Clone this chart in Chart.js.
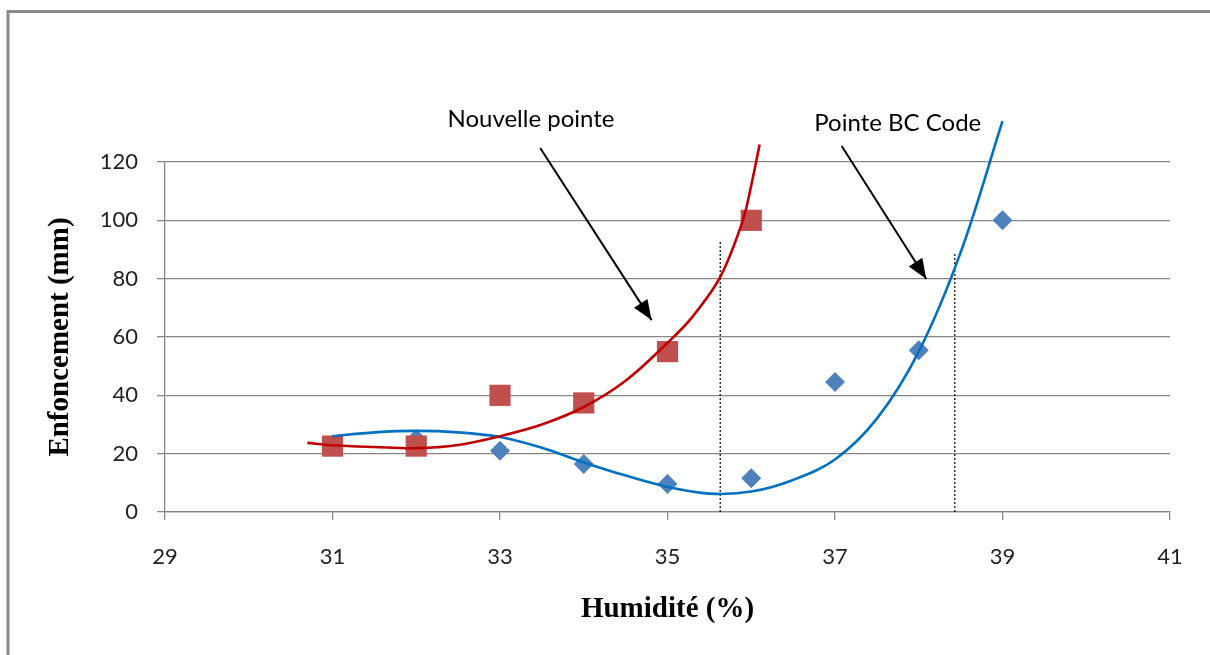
<!DOCTYPE html>
<html>
<head>
<meta charset="utf-8">
<script src="https://cdn.jsdelivr.net/npm/chart.js@4.4.1/dist/chart.umd.min.js"></script>
<style>
  html, body { margin: 0; padding: 0; background: #fff; }
  #wrap { position: relative; width: 1210px; height: 655px; }
</style>
</head>
<body>
<div id="wrap"><canvas id="chart" width="1210" height="655"></canvas></div>
<script>
// measured points
const humidity = [31, 32, 33, 34, 35, 36, 37, 38, 39];
const bcCode = [23, 25, 21, 16.5, 9.6, 11.6, 44.6, 55.5, 100];
const nouvHumidity = [31, 32, 33, 34, 35, 36];
const nouvelle = [22.6, 22.6, 40, 37.4, 55, 100];

// trend curves
const nouvTrendX = [30.7, 31, 31.5, 32, 32.5, 33, 33.5, 34, 34.5, 35, 35.3, 35.63, 35.9, 36.0, 36.1];
const nouvTrendY = [23.7, 22.9, 22.3, 21.9, 23, 26, 30, 36, 45, 58, 67, 80.6, 100, 112, 126];
const bcTrendX = [31, 31.5, 32, 32.5, 33, 33.5, 34, 34.5, 35, 35.5, 36, 36.5, 37, 37.5, 38, 38.5, 39];
const bcTrendY = [26, 27.3, 27.8, 27.3, 25.7, 22, 17, 12.5, 8.6, 6.3, 7, 11, 18, 32, 55, 89, 134];

// dotted markers and arrows (data coords)
const dropX = [35.63, 38.43];
const dropTop = [93, 89];
const arrowFrom = [[33.48, 124.8], [37.08, 125.5]];
const arrowTo = [[34.81, 65.8], [38.09, 79.9]];
const noteText = ['Nouvelle pointe', 'Pointe BC Code'];
const noteAt = [[33.37, 132], [37.75, 130.6]];

const xTicks = [29, 31, 33, 35, 37, 39, 41];

function pts(xs, ys) { return xs.map((x, i) => ({x: x, y: ys[i]})); }

const lineSets = [
  { data: pts(nouvTrendX, nouvTrendY), borderColor: '#C00000' },
  { data: pts(bcTrendX, bcTrendY), borderColor: '#0070C0' }
].map(d => Object.assign(d, {
  type: 'line', showLine: true, pointRadius: 0, borderWidth: 2.6,
  tension: 0.35, clip: false, fill: false
}));

const dropSets = dropX.map((x, i) => ({
  type: 'line', showLine: true, pointRadius: 0, borderWidth: 1.4,
  borderColor: '#222', borderDash: [2, 2], clip: false,
  data: [{x: x, y: 0}, {x: x, y: dropTop[i]}]
}));

const arrowSets = arrowFrom.map((a, i) => ({
  type: 'line', showLine: true, pointRadius: 0, borderWidth: 2,
  borderColor: '#000', clip: false, isArrow: true,
  data: [{x: a[0], y: a[1]}, {x: arrowTo[i][0], y: arrowTo[i][1]}]
}));

const decor = {
  id: 'decor',
  beforeDraw(chart) {
    const c = chart.ctx;
    c.save();
    c.strokeStyle = '#8a8a8a';
    c.lineWidth = 3;
    c.beginPath();
    c.moveTo(8, 655);
    c.lineTo(8, 11.5);
    c.lineTo(1210, 11.5);
    c.stroke();
    c.restore();
  },
  afterDatasetsDraw(chart) {
    const c = chart.ctx, xs = chart.scales.x, ys = chart.scales.y;
    c.save();
    chart.data.datasets.forEach(ds => {
      if (!ds.isArrow) return;
      const p0 = ds.data[0], p1 = ds.data[1];
      const x0 = xs.getPixelForValue(p0.x), y0 = ys.getPixelForValue(p0.y);
      const x1 = xs.getPixelForValue(p1.x), y1 = ys.getPixelForValue(p1.y);
      const ang = Math.atan2(y1 - y0, x1 - x0);
      const L = 20, W = 8;
      c.fillStyle = '#000';
      c.beginPath();
      c.moveTo(x1, y1);
      c.lineTo(x1 - L * Math.cos(ang) + W * Math.sin(ang), y1 - L * Math.sin(ang) - W * Math.cos(ang));
      c.lineTo(x1 - L * Math.cos(ang) - W * Math.sin(ang), y1 - L * Math.sin(ang) + W * Math.cos(ang));
      c.closePath();
      c.fill();
    });
    c.fillStyle = '#000';
    c.font = '24px Lato, "Open Sans", sans-serif';
    c.textAlign = 'center';
    c.textBaseline = 'alphabetic';
    noteText.forEach((t, i) => {
      c.fillText(t, xs.getPixelForValue(noteAt[i][0]), ys.getPixelForValue(noteAt[i][1]));
    });
    c.restore();
  }
};

const config = {
  type: 'scatter',
  data: {
    datasets: [
      ...arrowSets,
      ...lineSets,
      ...dropSets,
      { label: 'Nouvelle pointe', data: pts(nouvHumidity, nouvelle), pointStyle: 'rect',
        pointRadius: 15, pointHoverRadius: 15, backgroundColor: '#C0504D', borderColor: '#C0504D', borderWidth: 0 },
      { label: 'Pointe BC Code', data: pts(humidity, bcCode), pointStyle: 'rectRot',
        pointRadius: 10, pointHoverRadius: 10, backgroundColor: '#4F81BD', borderColor: '#4F81BD', borderWidth: 0 }
    ]
  },
  options: {
    responsive: false,
    animation: false,
    events: [],
    layout: { padding: { left: 0, right: 40, top: 162, bottom: 0 } },
    plugins: { legend: { display: false }, tooltip: { enabled: false } },
    scales: {
      x: {
        type: 'linear', min: 29, max: 41,
        afterFit(s) { s.height = 143; },
        afterBuildTicks(s) { s.ticks = xTicks.map(v => ({value: v})); },
        grid: { drawOnChartArea: false, color: '#868686', lineWidth: 1.3, tickLength: 8 },
        border: { color: '#868686', width: 1.3 },
        ticks: { color: '#222', padding: 24, font: { family: 'Lato, "Open Sans", sans-serif', size: 22 } },
        title: { display: true, text: 'Humidité (%)', color: '#000',
          padding: { top: 0, bottom: 28 },
          font: { family: '"Liberation Serif", serif', size: 29, weight: 'bold' } }
      },
      y: {
        min: 0, max: 120,
        afterFit(s) { s.width = 165; },
        grid: { color: '#868686', lineWidth: 1.3, tickLength: 8 },
        border: { color: '#868686', width: 1.3 },
        ticks: { stepSize: 20, color: '#222', padding: 19, font: { family: 'Lato, "Open Sans", sans-serif', size: 22 } },
        title: { display: true, text: 'Enfoncement (mm)', color: '#000',
          padding: { top: 43, bottom: 0 },
          font: { family: '"Liberation Serif", serif', size: 29, weight: 'bold' } }
      }
    }
  },
  plugins: [decor]
};

const myChart = new Chart(document.getElementById('chart'), config);
</script>
</body>
</html>
